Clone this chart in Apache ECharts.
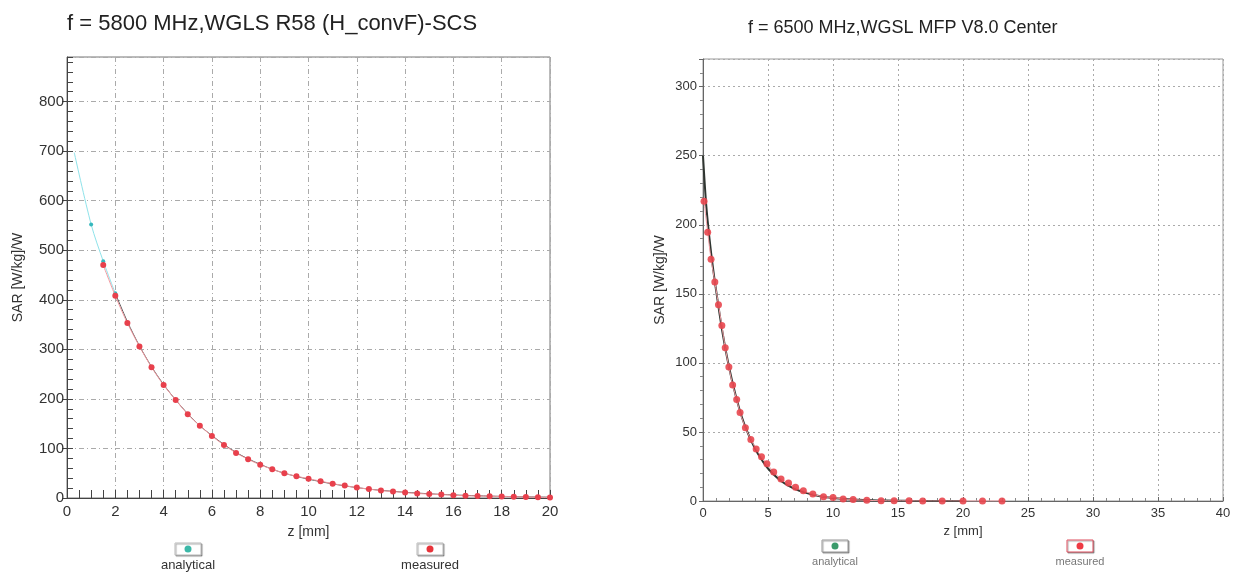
<!DOCTYPE html>
<html>
<head>
<meta charset="utf-8">
<script src="https://cdn.jsdelivr.net/npm/echarts@6/dist/echarts.min.js"></script>
<style>
html,body{margin:0;padding:0;background:#fff;}
#main{width:1238px;height:575px;}
</style>
</head>
<body>
<div id="main"></div>
<script>
// ---------- Left chart (5800 MHz) ----------
const leftTitle = 'f = 5800 MHz,WGLS R58 (H_convF)-SCS';
const leftExtrapZ = [0.3, 1, 1.5, 2];
const leftExtrapSAR = [697, 552, 478, 413];
const leftAnalyticalZ = [2,2.5,3,3.5,4,4.5,5,5.5,6,6.5,7,7.5,8,8.5,9,9.5,10,10.5,11,11.5,12,12.5,13,13.5,14,14.5,15,15.5,16,16.5,17,17.5,18,18.5,19,19.5,20];
const leftAnalyticalSAR = [413,356,307,265,229,198,170,146,126,108,92,79,68,58,50,43.5,38,33,28.5,24.5,21,18,15.5,13.5,11.5,10,8.5,7.3,6.2,5.3,4.5,3.9,3.3,2.8,2.4,2,1.7];
const leftMeasuredZ = [1.5,2,2.5,3,3.5,4,4.5,5,5.5,6,6.5,7,7.5,8,8.5,9,9.5,10,10.5,11,11.5,12,12.5,13,13.5,14,14.5,15,15.5,16,16.5,17,17.5,18,18.5,19,19.5,20];
const leftMeasuredSAR = [470,408,353,306,264,228,198,169,146,125,107,91,78,67,58,50,44,39,34,29,25,21,18,15,13,11,9,8,7,5.5,4.5,4,3.5,3,2.5,2,1.5,1];

// ---------- Right chart (6500 MHz) ----------
const rightTitle = 'f = 6500 MHz,WGSL MFP V8.0 Center';
const rightAnalyticalZ = [0,0.25,0.5,0.75,1,1.5,2,2.5,3,3.5,4,4.5,5,6,7,8,9,10,11,12,13,14,16,18,20];
const rightAnalyticalSAR = [250,214,190,170,153,122,97,77,60.5,48,38,30,23.5,14.5,9,5.7,3.5,2.2,1.4,0.9,0.5,0.3,0.1,0.05,0];
const rightMeasuredZ = [0.08,0.36,0.62,0.91,1.19,1.45,1.71,1.99,2.28,2.59,2.85,3.26,3.68,4.09,4.5,4.92,5.44,6.0,6.58,7.12,7.72,8.45,9.27,10.0,10.78,11.55,12.6,13.7,14.7,15.85,16.9,18.4,20,21.5,23];
const rightMeasuredSAR = [217,194.5,175,158.6,142,127,111,97,84,73.5,64,53,44.6,37.7,32,27,21,16,13,10,7.4,5,3,2.5,1.5,1,0.5,0.2,0.1,0.1,0,0,0,0,0];

const leftXTicks = {min:0, max:20, interval:2};
const leftYTicks = {min:0, max:890, interval:100};
const rightXTicks = {min:0, max:40, interval:5};
const rightYTicks = {min:0, max:320, interval:50};

function pairs(xs, ys){ return xs.map((x,i)=>[x, ys[i]]); }

const FONT = 'Liberation Sans, Arial, sans-serif';
const chart = echarts.init(document.getElementById('main'));

function legendItem(cx, cy, dotColor, boxBorder, label, fs, color){
  return [
    {type:'rect', shape:{x:cx-13, y:cy-6, width:26, height:12},
     style:{fill:'#fff', stroke:boxBorder, lineWidth:1, shadowColor:'rgba(0,0,0,0.35)', shadowOffsetX:1, shadowOffsetY:1, shadowBlur:1}},
    {type:'circle', shape:{cx:cx, cy:cy, r:3.5}, style:{fill:dotColor}},
    {type:'text', x:cx, y:cy+16, style:{text:label, fill:color, font:fs+'px '+FONT, align:'center', verticalAlign:'middle'}}
  ];
}

const option = {
  backgroundColor:'#fff',
  animation:false,
  title:[
    {text:leftTitle, left:62, top:8, textStyle:{fontSize:22, fontWeight:'normal', color:'#222', fontFamily:FONT}},
    {text:rightTitle, left:743, top:14, textStyle:{fontSize:18, fontWeight:'normal', color:'#222', fontFamily:FONT}}
  ],
  grid:[
    {left:67, top:57, width:483, height:441, show:true, borderColor:'#777', borderWidth:1, backgroundColor:'#fff'},
    {left:703, top:59, width:520, height:442, show:true, borderColor:'#999', borderWidth:1, backgroundColor:'#fff'}
  ],
  xAxis:[
    {gridIndex:0, type:'value', min:leftXTicks.min, max:leftXTicks.max, interval:leftXTicks.interval,
     name:'z [mm]', nameLocation:'middle', nameGap:27, nameTextStyle:{fontSize:14, color:'#333', fontFamily:FONT},
     axisLine:{lineStyle:{color:'#444'}}, axisTick:{inside:true, length:8, lineStyle:{color:'#444'}},
     minorTick:{show:true, splitNumber:4, length:8, lineStyle:{color:'#444'}},
     axisLabel:{fontSize:15, color:'#333', fontFamily:FONT, margin:6},
     splitLine:{show:true, lineStyle:{color:'#aaa', type:[5,3,1,3]}}},
    {gridIndex:1, type:'value', min:rightXTicks.min, max:rightXTicks.max, interval:rightXTicks.interval,
     name:'z [mm]', nameLocation:'middle', nameGap:22, nameTextStyle:{fontSize:13, color:'#333', fontFamily:FONT},
     axisLine:{lineStyle:{color:'#666'}}, axisTick:{inside:true, length:4, lineStyle:{color:'#666'}},
     minorTick:{show:true, splitNumber:5, length:3, lineStyle:{color:'#888'}},
     axisLabel:{fontSize:13, color:'#333', fontFamily:FONT, margin:6},
     splitLine:{show:true, lineStyle:{color:'#aaa', type:[2,3]}}}
  ],
  yAxis:[
    {gridIndex:0, type:'value', min:leftYTicks.min, max:leftYTicks.max, interval:leftYTicks.interval,
     name:'SAR [W/kg]/W', nameLocation:'middle', nameGap:42,
     nameTextStyle:{fontSize:14, color:'#333', fontFamily:FONT},
     axisLine:{lineStyle:{color:'#444'}}, axisTick:{inside:false, length:5, lineStyle:{color:'#444'}},
     axisLabel:{fontSize:15, color:'#333', fontFamily:FONT, margin:3, showMaxLabel:false},
     splitLine:{show:true, lineStyle:{color:'#aaa', type:[5,3,1,3]}}},
    {gridIndex:0, type:'value', min:leftYTicks.min, max:leftYTicks.max, interval:leftYTicks.interval, position:'left',
     axisLine:{show:false}, axisLabel:{show:false}, splitLine:{show:false},
     axisTick:{inside:true, length:6, lineStyle:{color:'#444'}},
     minorTick:{show:true, splitNumber:5, length:6, lineStyle:{color:'#444'}}},
    {gridIndex:1, type:'value', min:rightYTicks.min, max:rightYTicks.max, interval:rightYTicks.interval,
     name:'SAR [W/kg]/W', nameLocation:'middle', nameGap:36,
     nameTextStyle:{fontSize:14, color:'#333', fontFamily:FONT},
     axisLine:{lineStyle:{color:'#666'}}, axisTick:{inside:false, length:4, lineStyle:{color:'#666'}},
     minorTick:{show:true, splitNumber:5, length:3, lineStyle:{color:'#888'}},
     axisLabel:{fontSize:13, color:'#333', fontFamily:FONT, margin:6, showMaxLabel:false},
     splitLine:{show:true, lineStyle:{color:'#aaa', type:[2,3]}}}
  ],
  series:[
    {name:'analytical', type:'line', xAxisIndex:0, yAxisIndex:0, data:pairs(leftExtrapZ, leftExtrapSAR),
     smooth:0.3, lineStyle:{color:'#8fe3ea', width:1}, symbol:'circle',
     symbolSize:(v,p)=>p.dataIndex===0?0:4, itemStyle:{color:'#35b8bd'}, z:3},
    {name:'analytical', type:'line', xAxisIndex:0, yAxisIndex:0, data:pairs(leftAnalyticalZ, leftAnalyticalSAR),
     smooth:0.3, showSymbol:false, lineStyle:{color:'#555', width:1}, itemStyle:{color:'#35b8bd'}, z:3},
    {name:'measured', type:'line', xAxisIndex:0, yAxisIndex:0, data:pairs(leftMeasuredZ, leftMeasuredSAR),
     smooth:0.3, lineStyle:{color:'#f29aa0', width:1}, symbol:'circle', symbolSize:6,
     itemStyle:{color:'#e8404c'}, z:4},
    {name:'analytical', type:'line', xAxisIndex:1, yAxisIndex:2, data:pairs(rightAnalyticalZ, rightAnalyticalSAR),
     smooth:0.3, showSymbol:false, lineStyle:{color:'#2f3530', width:2}, itemStyle:{color:'#3a9a6a'}, z:3},
    {name:'measured', type:'line', xAxisIndex:1, yAxisIndex:2, data:pairs(rightMeasuredZ, rightMeasuredSAR),
     smooth:0.3, lineStyle:{color:'#f2a0a6', width:1}, symbol:'circle', symbolSize:7,
     itemStyle:{color:'#e8464e', opacity:0.9}, z:4}
  ],
  graphic:[].concat(
    legendItem(188, 549, '#3cb8a8', '#bbb', 'analytical', 13, '#333'),
    legendItem(430, 549, '#e8333a', '#bbb', 'measured', 13, '#333'),
    legendItem(835, 546, '#3a9a6a', '#999', 'analytical', 11, '#777'),
    legendItem(1080, 546, '#ee3a44', '#e05060', 'measured', 11, '#777')
  )
};
chart.setOption(option);
</script>
</body>
</html>
